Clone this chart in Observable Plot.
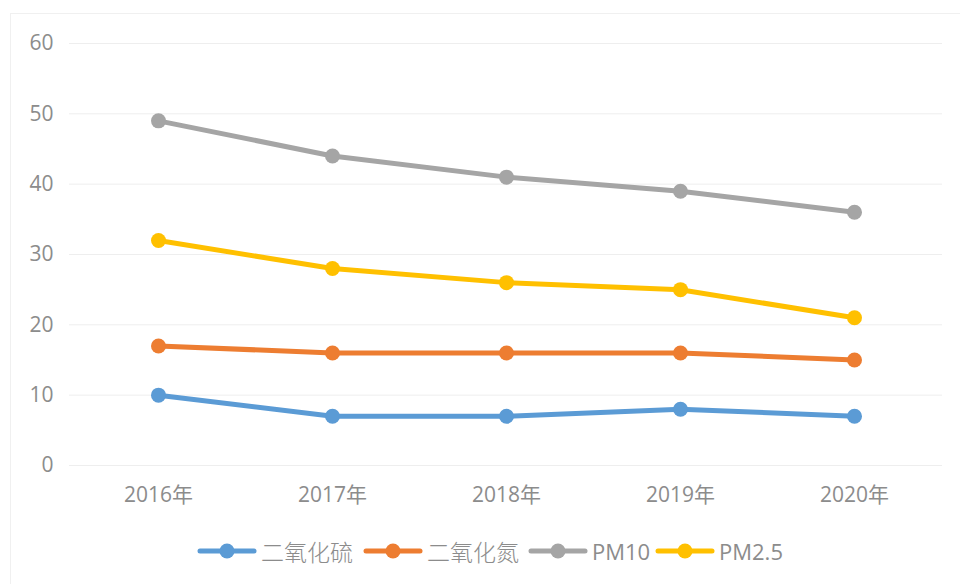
<!DOCTYPE html>
<html><head><meta charset="utf-8">
<script src="https://cdn.jsdelivr.net/npm/d3@7"></script>
<script src="https://cdn.jsdelivr.net/npm/@observablehq/plot@0.6"></script>
<style>
body{margin:0;background:#fff;font-family:"Open Sans","Noto Sans CJK SC",sans-serif;}
#wrap{position:relative;width:960px;height:584px;overflow:hidden;}
#frame{position:absolute;left:10px;top:13px;width:1000px;height:600px;border:1px solid #f0f0f0;box-sizing:border-box;}
#chart{position:absolute;left:0;top:0;}
#chart svg text{font-size:21px;}
#legend{position:absolute;left:0;top:538px;width:960px;height:26px;}
#legend .it{position:absolute;top:0;height:26px;display:flex;align-items:center;color:#8c8c8c;font-size:22px;white-space:nowrap;}
#legend .cn{font-family:"Noto Sans CJK SC";font-weight:300;font-size:23px;}
</style></head>
<body><div id="wrap"><div id="frame"></div><div id="chart"></div><div id="legend"></div></div>
<script>
const years = ["2016年","2017年","2018年","2019年","2020年"];
const seriesNames = ["二氧化硫","二氧化氮","PM10","PM2.5"];
const colors = ["#5B9BD5","#ED7D31","#A5A5A5","#FFC000"];
const so2 = [10,7,7,8,7];
const no2 = [17,16,16,16,15];
const pm10 = [49,44,41,39,36];
const pm25 = [32,28,26,25,21];
const yTicks = [0,10,20,30,40,50,60];

const valuesBySeries = [so2,no2,pm10,pm25];
const data = [];
seriesNames.forEach((s,i)=>years.forEach((y,j)=>data.push({series:s,year:y,value:valuesBySeries[i][j]})));

const plot = Plot.plot({
  width:960, height:520,
  marginLeft:69, marginRight:18, marginTop:43, marginBottom:55,
  x:{type:"point", domain:years, padding:0.5},
  y:{domain:[0,60]},
  color:{domain:seriesNames, range:colors},
  style:{fontFamily:"'Open Sans','Noto Sans CJK SC',sans-serif", fontSize:"21px", color:"#8c8c8c", background:"transparent"},
  marks:[
    Plot.gridY(yTicks,{stroke:"#eeeeee", strokeOpacity:1, strokeWidth:1}),
    Plot.axisY(yTicks,{tickSize:0, tickPadding:16, fill:"#8c8c8c", label:null}),
    Plot.axisX(years,{tickSize:0, tickPadding:22, fill:"#8c8c8c", label:null}),
    Plot.lineY(data,{x:"year", y:"value", z:"series", stroke:"series", strokeWidth:5, strokeLinecap:"round"}),
    Plot.dot(data,{x:"year", y:"value", fill:"series", r:7.5})
  ]
});
document.getElementById("chart").appendChild(plot);

// legend
const legendPos = [197, 363, 528, 655];
const lg = document.getElementById("legend");
seriesNames.forEach((s,i)=>{
  const d = document.createElement("div");
  d.className="it";
  d.style.left = legendPos[i]+"px";
  const svg = `<svg width="60" height="26"><line x1="3" y1="13" x2="57" y2="13" stroke="${colors[i]}" stroke-width="5" stroke-linecap="round"/><circle cx="30" cy="13" r="7.5" fill="${colors[i]}"/></svg>`;
  const cn = /[\u4e00-\u9fff]/.test(s);
  d.innerHTML = svg + `<span class="${cn?'cn':''}" style="margin-left:4px">${s}</span>`;
  lg.appendChild(d);
});
</script>
</body></html>
